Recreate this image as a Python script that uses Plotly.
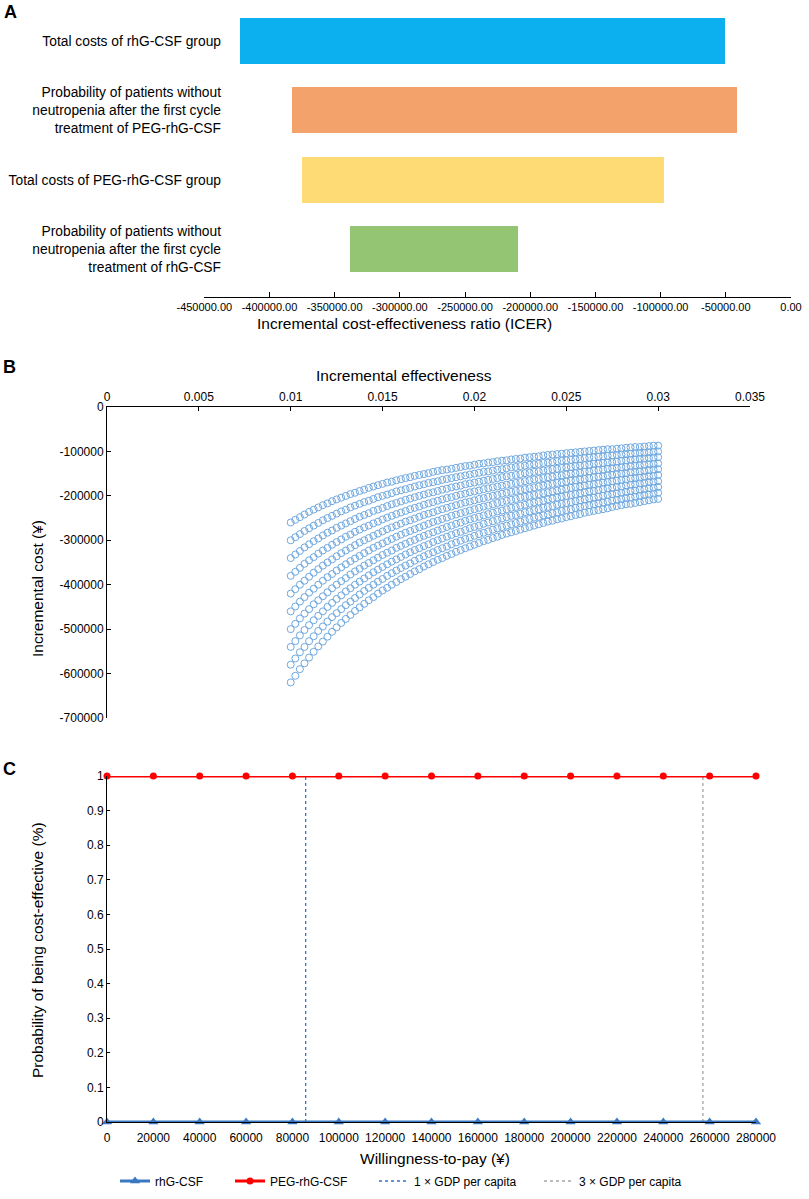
import plotly.graph_objects as go

W, H = 809, 1199
FONT = "Liberation Sans, Arial, sans-serif"

# ---------------- Panel A: tornado diagram ----------------
param_labels = [
    "Total costs of rhG-CSF group",
    "Probability of patients without<br>neutropenia after the first cycle<br>treatment of PEG-rhG-CSF",
    "Total costs of PEG-rhG-CSF group",
    "Probability of patients without<br>neutropenia after the first cycle<br>treatment of rhG-CSF",
]
icer_low = [-422500, -382400, -374500, -337700]
icer_high = [-50100, -41000, -97200, -209300]
bar_colors = ["#0DB0EE", "#F4A26B", "#FEDB75", "#93C572"]
icer_ticks = [-450000, -400000, -350000, -300000, -250000, -200000,
              -150000, -100000, -50000, 0]
icer_ticktext = ["-450000.00", "-400000.00", "-350000.00", "-300000.00",
                 "-250000.00", "-200000.00", "-150000.00", "-100000.00",
                 "-50000.00", "0.00"]

# ---------------- Panel B: scatter of incremental cost vs effect ----------------
incremental_effect = [
    0.01000, 0.01025, 0.01050, 0.01075, 0.01100, 0.01125, 0.01150, 0.01175, 0.01200, 0.01225,
    0.01250, 0.01275, 0.01300, 0.01325, 0.01350, 0.01375, 0.01400, 0.01425, 0.01450, 0.01475,
    0.01500, 0.01525, 0.01550, 0.01575, 0.01600, 0.01625, 0.01650, 0.01675, 0.01700, 0.01725,
    0.01750, 0.01775, 0.01800, 0.01825, 0.01850, 0.01875, 0.01900, 0.01925, 0.01950, 0.01975,
    0.02000, 0.02025, 0.02050, 0.02075, 0.02100, 0.02125, 0.02150, 0.02175, 0.02200, 0.02225,
    0.02250, 0.02275, 0.02300, 0.02325, 0.02350, 0.02375, 0.02400, 0.02425, 0.02450, 0.02475,
    0.02500, 0.02525, 0.02550, 0.02575, 0.02600, 0.02625, 0.02650, 0.02675, 0.02700, 0.02725,
    0.02750, 0.02775, 0.02800, 0.02825, 0.02850, 0.02875, 0.02900, 0.02925, 0.02950, 0.02975,
    0.03000,
]
cost_curve_1 = [
    -260000, -254000, -248000, -242000, -236000, -231000, -226000, -221000, -217000, -212000,
    -208000, -204000, -200000, -196000, -193000, -189000, -186000, -182000, -179000, -176000,
    -173000, -170000, -168000, -165000, -162500, -160000, -158000, -155000, -153000, -151000,
    -149000, -146000, -144000, -142000, -141000, -139000, -137000, -135000, -133000, -132000,
    -130000, -128000, -127000, -125000, -124000, -122000, -121000, -120000, -118000, -117000,
    -116000, -114000, -113000, -112000, -111000, -109000, -108000, -107000, -106000, -105000,
    -104000, -103000, -102000, -101000, -100000, -99000, -98000, -97000, -96000, -95000,
    -95000, -94000, -93000, -92000, -91000, -90000, -90000, -89000, -88000, -87000,
    -87000,
]
cost_curve_2 = [
    -300000, -293000, -286000, -279000, -273000, -267000, -261000, -255000, -250000, -245000,
    -240000, -235000, -231000, -226000, -222000, -218000, -214000, -211000, -207000, -203000,
    -200000, -197000, -194000, -190000, -187500, -185000, -182000, -179000, -176000, -174000,
    -171000, -169000, -167000, -164000, -162000, -160000, -158000, -156000, -154000, -152000,
    -150000, -148000, -146000, -145000, -143000, -141000, -140000, -138000, -136000, -135000,
    -133000, -132000, -130000, -129000, -128000, -126000, -125000, -124000, -122000, -121000,
    -120000, -119000, -118000, -117000, -115000, -114000, -113000, -112000, -111000, -110000,
    -109000, -108000, -107000, -106000, -105000, -104000, -103000, -103000, -102000, -101000,
    -100000,
]
cost_curve_3 = [
    -340000, -332000, -324000, -316000, -309000, -302000, -296000, -289000, -283000, -278000,
    -272000, -267000, -262000, -257000, -252000, -247000, -243000, -239000, -234000, -231000,
    -227000, -223000, -219000, -216000, -212500, -209000, -206000, -203000, -200000, -197000,
    -194000, -192000, -189000, -186000, -184000, -181000, -179000, -177000, -174000, -172000,
    -170000, -168000, -166000, -164000, -162000, -160000, -158000, -156000, -155000, -153000,
    -151000, -149000, -148000, -146000, -145000, -143000, -142000, -140000, -139000, -137000,
    -136000, -135000, -133000, -132000, -131000, -130000, -128000, -127000, -126000, -125000,
    -124000, -123000, -121000, -120000, -119000, -118000, -117000, -116000, -115000, -114000,
    -113000,
]
cost_curve_4 = [
    -380000, -371000, -362000, -353000, -345000, -338000, -330000, -323000, -317000, -310000,
    -304000, -298000, -292000, -287000, -281000, -276000, -271000, -267000, -262000, -258000,
    -253000, -249000, -245000, -241000, -237500, -234000, -230000, -227000, -224000, -220000,
    -217000, -214000, -211000, -208000, -205000, -203000, -200000, -197000, -195000, -192000,
    -190000, -188000, -185000, -183000, -181000, -179000, -177000, -175000, -173000, -171000,
    -169000, -167000, -165000, -163000, -162000, -160000, -158000, -157000, -155000, -154000,
    -152000, -150000, -149000, -148000, -146000, -145000, -143000, -142000, -141000, -139000,
    -138000, -137000, -136000, -135000, -133000, -132000, -131000, -130000, -129000, -128000,
    -127000,
]
cost_curve_5 = [
    -420000, -410000, -400000, -391000, -382000, -373000, -365000, -357000, -350000, -343000,
    -336000, -329000, -323000, -317000, -311000, -305000, -300000, -295000, -290000, -285000,
    -280000, -275000, -271000, -267000, -262500, -258000, -255000, -251000, -247000, -243000,
    -240000, -237000, -233000, -230000, -227000, -224000, -221000, -218000, -215000, -213000,
    -210000, -207000, -205000, -202000, -200000, -198000, -195000, -193000, -191000, -189000,
    -187000, -185000, -183000, -181000, -179000, -177000, -175000, -173000, -171000, -170000,
    -168000, -166000, -165000, -163000, -162000, -160000, -158000, -157000, -156000, -154000,
    -153000, -151000, -150000, -149000, -147000, -146000, -145000, -144000, -142000, -141000,
    -140000,
]
cost_curve_6 = [
    -460000, -449000, -438000, -428000, -418000, -409000, -400000, -391000, -383000, -376000,
    -368000, -361000, -354000, -347000, -341000, -335000, -329000, -323000, -317000, -312000,
    -307000, -302000, -297000, -292000, -287500, -283000, -279000, -275000, -271000, -267000,
    -263000, -259000, -256000, -252000, -249000, -245000, -242000, -239000, -236000, -233000,
    -230000, -227000, -224000, -222000, -219000, -216000, -214000, -211000, -209000, -207000,
    -204000, -202000, -200000, -198000, -196000, -194000, -192000, -190000, -188000, -186000,
    -184000, -182000, -180000, -179000, -177000, -175000, -174000, -172000, -170000, -169000,
    -167000, -166000, -164000, -163000, -161000, -160000, -159000, -157000, -156000, -155000,
    -153000,
]
cost_curve_7 = [
    -500000, -488000, -476000, -465000, -455000, -444000, -435000, -426000, -417000, -408000,
    -400000, -392000, -385000, -377000, -370000, -364000, -357000, -351000, -345000, -339000,
    -333000, -328000, -323000, -317000, -312500, -308000, -303000, -299000, -294000, -290000,
    -286000, -282000, -278000, -274000, -270000, -267000, -263000, -260000, -256000, -253000,
    -250000, -247000, -244000, -241000, -238000, -235000, -233000, -230000, -227000, -225000,
    -222000, -220000, -217000, -215000, -213000, -211000, -208000, -206000, -204000, -202000,
    -200000, -198000, -196000, -194000, -192000, -190000, -189000, -187000, -185000, -183000,
    -182000, -180000, -179000, -177000, -175000, -174000, -172000, -171000, -169000, -168000,
    -167000,
]
cost_curve_8 = [
    -540000, -527000, -514000, -502000, -491000, -480000, -470000, -460000, -450000, -441000,
    -432000, -424000, -415000, -408000, -400000, -393000, -386000, -379000, -372000, -366000,
    -360000, -354000, -348000, -343000, -337500, -332000, -327000, -322000, -318000, -313000,
    -309000, -304000, -300000, -296000, -292000, -288000, -284000, -281000, -277000, -273000,
    -270000, -267000, -263000, -260000, -257000, -254000, -251000, -248000, -245000, -243000,
    -240000, -237000, -235000, -232000, -230000, -227000, -225000, -223000, -220000, -218000,
    -216000, -214000, -212000, -210000, -208000, -206000, -204000, -202000, -200000, -198000,
    -196000, -195000, -193000, -191000, -189000, -188000, -186000, -185000, -183000, -182000,
    -180000,
]
cost_curve_9 = [
    -580000, -566000, -552000, -540000, -527000, -516000, -504000, -494000, -483000, -473000,
    -464000, -455000, -446000, -438000, -430000, -422000, -414000, -407000, -400000, -393000,
    -387000, -380000, -374000, -368000, -362500, -357000, -352000, -346000, -341000, -336000,
    -331000, -327000, -322000, -318000, -314000, -309000, -305000, -301000, -297000, -294000,
    -290000, -286000, -283000, -280000, -276000, -273000, -270000, -267000, -264000, -261000,
    -258000, -255000, -252000, -249000, -247000, -244000, -242000, -239000, -237000, -234000,
    -232000, -230000, -227000, -225000, -223000, -221000, -219000, -217000, -215000, -213000,
    -211000, -209000, -207000, -205000, -204000, -202000, -200000, -198000, -197000, -195000,
    -193000,
]
cost_curve_10 = [
    -620000, -605000, -590000, -577000, -564000, -551000, -539000, -528000, -517000, -506000,
    -496000, -486000, -477000, -468000, -459000, -451000, -443000, -435000, -428000, -420000,
    -413000, -407000, -400000, -394000, -387500, -382000, -376000, -370000, -365000, -359000,
    -354000, -349000, -344000, -340000, -335000, -331000, -326000, -322000, -318000, -314000,
    -310000, -306000, -302000, -299000, -295000, -292000, -288000, -285000, -282000, -279000,
    -276000, -273000, -270000, -267000, -264000, -261000, -258000, -256000, -253000, -251000,
    -248000, -246000, -243000, -241000, -238000, -236000, -234000, -232000, -230000, -228000,
    -225000, -223000, -221000, -219000, -218000, -216000, -214000, -212000, -210000, -208000,
    -207000,
]
cost_curves = [cost_curve_1, cost_curve_2, cost_curve_3, cost_curve_4, cost_curve_5,
               cost_curve_6, cost_curve_7, cost_curve_8, cost_curve_9, cost_curve_10]
cost_ticks = [0, -100000, -200000, -300000, -400000, -500000, -600000, -700000]
cost_ticktext = ["0", "-100000", "-200000", "-300000", "-400000", "-500000",
                 "-600000", "-700000"]

# ---------------- Panel C: acceptability curves ----------------
wtp = [0, 20000, 40000, 60000, 80000, 100000, 120000, 140000, 160000, 180000,
       200000, 220000, 240000, 260000, 280000]
prob_rhg = [0, 0, 0, 0, 0, 0, 0, 0, 0, 0, 0, 0, 0, 0, 0]
prob_peg = [1, 1, 1, 1, 1, 1, 1, 1, 1, 1, 1, 1, 1, 1, 1]
gdp_1x = 85698
gdp_3x = 257094
gdp_prob_span = [0, 1]


def px_x(p):
    return p / W


def px_y(p):
    return 1 - p / H


fig = go.Figure()

# Panel A bars
fig.add_trace(go.Bar(
    orientation="h",
    y=[0, 1, 2, 3],
    base=icer_low,
    x=[h - l for h, l in zip(icer_high, icer_low)],
    width=0.665,
    marker=dict(color=bar_colors, line=dict(width=0)),
    xaxis="x", yaxis="y", showlegend=False,
))

# Panel B scatter
for curve in cost_curves:
    fig.add_trace(go.Scatter(
        x=incremental_effect, y=curve, mode="markers",
        marker=dict(symbol="circle-open", size=7, color="#6FA8DF",
                    line=dict(width=1, color="#6FA8DF")),
        xaxis="x2", yaxis="y2", showlegend=False,
    ))

# Panel C
fig.add_trace(go.Scatter(
    x=[gdp_1x, gdp_1x], y=gdp_prob_span, mode="lines",
    line=dict(color="#2F74D8", width=1.3, dash="dot"),
    name="1 × GDP per capita", xaxis="x3", yaxis="y3", legend="legend3",
))
fig.add_trace(go.Scatter(
    x=[gdp_3x, gdp_3x], y=gdp_prob_span, mode="lines",
    line=dict(color="#A6A6A6", width=1.3, dash="dot"),
    name="3 × GDP per capita", xaxis="x3", yaxis="y3", legend="legend4",
))
fig.add_trace(go.Scatter(
    x=wtp, y=prob_rhg, mode="lines+markers",
    line=dict(color="#3A78C3", width=3),
    marker=dict(symbol="triangle-up", size=9, color="#3A78C3"),
    name="rhG-CSF", xaxis="x3", yaxis="y3", legend="legend", cliponaxis=False,
))
fig.add_trace(go.Scatter(
    x=wtp, y=prob_peg, mode="lines+markers",
    line=dict(color="#FF0000", width=3),
    marker=dict(symbol="circle", size=7, color="#FF0000"),
    name="PEG-rhG-CSF", xaxis="x3", yaxis="y3", legend="legend2", cliponaxis=False,
))

tickfont = dict(family=FONT, size=12, color="#000")
axis_common = dict(showgrid=False, zeroline=False, showline=True, automargin=False,
                   linecolor="#000", linewidth=1, tickcolor="#000")

legend_common = dict(orientation="h", yanchor="middle", y=px_y(1181), xanchor="left",
                     font=dict(family=FONT, size=12, color="#000"),
                     bgcolor="rgba(0,0,0,0)", borderwidth=0,
                     itemwidth=30, tracegroupgap=0)

fig.update_layout(
    template="none",
    width=W, height=H,
    margin=dict(l=0, r=0, t=0, b=0, pad=0, autoexpand=False),
    paper_bgcolor="white", plot_bgcolor="white",
    font=dict(family=FONT, size=12, color="#000"),
    bargap=0,
    # Panel A
    xaxis=dict(domain=[px_x(204.3), px_x(791)], anchor="y", range=[-450000, 0],
               tickvals=icer_ticks, ticktext=icer_ticktext, ticks="inside", ticklen=5,
               tickfont=dict(family=FONT, size=11, color="#000"), **axis_common),
    yaxis=dict(domain=[px_y(297), px_y(5)], range=[3.686, -0.515], anchor="free",
               position=px_x(221), tickvals=[0, 1, 2, 3], ticktext=param_labels,
               showline=False, showgrid=False, zeroline=False, ticks="", automargin=False,
               tickfont=dict(family=FONT, size=13.8, color="#000")),
    # Panel B
    xaxis2=dict(domain=[px_x(107), px_x(750)], anchor="y2", side="top",
                range=[0, 0.035], dtick=0.005, tick0=0, ticks="inside", ticklen=4,
                tickfont=tickfont, **axis_common),
    yaxis2=dict(domain=[px_y(718), px_y(407)], anchor="x2", range=[-700000, 0],
                tickvals=cost_ticks, ticktext=cost_ticktext, ticks="inside", ticklen=4,
                tickfont=tickfont, **axis_common),
    # Panel C
    xaxis3=dict(domain=[px_x(107), px_x(756)], anchor="y3", range=[0, 280000],
                dtick=20000, tick0=0, tickformat="d", ticks="", ticklabelstandoff=5,
                tickfont=tickfont, **axis_common),
    yaxis3=dict(domain=[px_y(1122), px_y(776)], anchor="x3", range=[0, 1],
                dtick=0.1, tick0=0, ticks="inside", ticklen=3,
                tickfont=tickfont, **axis_common),
    legend=dict(x=px_x(115), **legend_common),
    legend2=dict(x=px_x(230), **legend_common),
    legend3=dict(x=px_x(374), **legend_common),
    legend4=dict(x=px_x(539), **legend_common),
)

title_font = dict(family=FONT, size=15.5, color="#000")
annotations = [
    dict(text="<b>A</b>", x=px_x(2), y=px_y(12), xanchor="left", yanchor="middle",
         font=dict(family=FONT, size=18, color="#000")),
    dict(text="<b>B</b>", x=px_x(1), y=px_y(367), xanchor="left", yanchor="middle",
         font=dict(family=FONT, size=18, color="#000")),
    dict(text="<b>C</b>", x=px_x(1), y=px_y(769), xanchor="left", yanchor="middle",
         font=dict(family=FONT, size=18, color="#000")),
    dict(text="Incremental cost-effectiveness ratio (ICER)", x=px_x(404), y=px_y(323),
         xanchor="center", yanchor="middle", font=title_font),
    dict(text="Incremental effectiveness", x=px_x(404), y=px_y(375),
         xanchor="center", yanchor="middle", font=title_font),
    dict(text="Incremental cost (¥)", x=px_x(37), y=px_y(589), textangle=-90,
         xanchor="center", yanchor="middle", font=title_font),
    dict(text="Probability of being cost-effective (%)", x=px_x(37), y=px_y(950),
         textangle=-90, xanchor="center", yanchor="middle", font=title_font),
    dict(text="Willingness-to-pay (¥)", x=px_x(435), y=px_y(1158),
         xanchor="center", yanchor="middle", font=title_font),
]
for a in annotations:
    a.update(xref="paper", yref="paper", showarrow=False)
fig.update_layout(annotations=annotations)

fig.write_html(
    "out.html",
    config={"displayModeBar": False},
    post_script="document.body.style.margin='0px';document.body.style.padding='0px';",
)
